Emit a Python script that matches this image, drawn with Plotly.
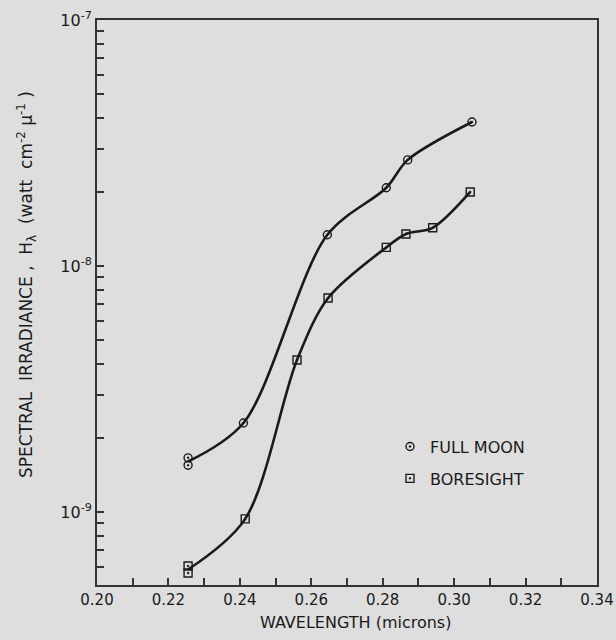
import numpy as np
import plotly.graph_objects as go

# Full moon measurements
fm_x = [0.2255, 0.2255, 0.241, 0.2645, 0.281, 0.287, 0.305]
fm_y = [1.66e-9, 1.55e-9, 2.30e-9, 1.34e-8, 2.08e-8, 2.70e-8, 3.85e-8]

# Boresight measurements
bs_x = [0.2255, 0.2255, 0.2415, 0.256, 0.2647, 0.281, 0.2865, 0.294, 0.3045]
bs_y = [6.03e-10, 5.65e-10, 9.38e-10, 4.15e-9, 7.41e-9, 1.19e-8, 1.35e-8, 1.43e-8, 2.00e-8]

x_ticks = [0.20, 0.22, 0.24, 0.26, 0.28, 0.30, 0.32, 0.34]
x_minor = [0.21, 0.23, 0.25, 0.27, 0.29, 0.31, 0.33]
y_major = [1e-9, 1e-8, 1e-7]
y_major_text = ["10<sup>-9</sup>", "10<sup>-8</sup>", "10<sup>-7</sup>"]

BG = "#dedede"
INK = "#1a1a1a"
AX = "#333333"
FONT = "DejaVu Sans"


def curve_points(xs, ys):
    # merge duplicate x readings for the drawn curve (geometric mean)
    out_x, out_y = [], []
    i = 0
    while i < len(xs):
        j = i
        vals = []
        while j < len(xs) and xs[j] == xs[i]:
            vals.append(np.log10(ys[j]))
            j += 1
        out_x.append(xs[i])
        out_y.append(10 ** (sum(vals) / len(vals)))
        i = j
    return out_x, out_y


fig = go.Figure()
for xs, ys in [(fm_x, fm_y), (bs_x, bs_y)]:
    cx, cy = curve_points(xs, ys)
    fig.add_trace(go.Scatter(x=cx, y=cy, mode="lines", showlegend=False,
                             line=dict(color=INK, width=2.6, shape="spline", smoothing=0.9),
                             hoverinfo="skip"))

fig.add_trace(go.Scatter(x=fm_x, y=fm_y, mode="markers", name="FULL MOON", legendgroup="a",
                         marker=dict(symbol="circle-open-dot", size=8, color=INK,
                                     line=dict(width=1.4, color=INK))))
fig.add_trace(go.Scatter(x=bs_x, y=bs_y, mode="markers", name="BORESIGHT", legendgroup="b",
                         marker=dict(symbol="square-open-dot", size=8, color=INK,
                                     line=dict(width=1.4, color=INK))))

# y tick positions: majors plus 2..9 minors, all same tick length
y_tickvals, y_ticktext = [], []
for d in [-10, -9, -8]:
    for m in range(1, 10):
        v = m * 10.0 ** d
        if 5e-10 <= v <= 1e-7 * 1.0001:
            y_tickvals.append(v)
            y_ticktext.append(y_major_text[d + 9] if m == 1 and d >= -9 else "")
y_tickvals.append(1e-7)
y_ticktext.append(y_major_text[2])

fig.update_layout(
    width=616, height=640,
    margin=dict(l=97, r=19, t=20, b=55, autoexpand=False),
    paper_bgcolor=BG, plot_bgcolor=BG,
    font=dict(family=FONT, color=INK, size=15),
    legend=dict(x=0.586, y=0.275, xanchor="left", yanchor="top",
                bgcolor="rgba(0,0,0,0)", font=dict(size=16, family=FONT),
                itemwidth=30, tracegroupgap=8, traceorder="grouped"),
    showlegend=True,
)
fig.update_xaxes(
    range=[0.20, 0.34], tickvals=x_ticks, ticktext=[f"{v:.2f}" for v in x_ticks],
    automargin=False,
    showgrid=False, zeroline=False, showline=True, linecolor=AX, linewidth=2,
    mirror=True, ticks="inside", ticklen=7, tickwidth=1.5, tickcolor=AX,
    minor=dict(tickvals=x_minor, ticks="inside", ticklen=7, tickwidth=1.5, tickcolor=AX),
    tickfont=dict(size=15),
)
fig.update_yaxes(
    type="log", range=[np.log10(5.05e-10), -7],
    tickvals=y_tickvals, ticktext=y_ticktext, automargin=False,
    showgrid=False, zeroline=False, showline=True, linecolor=AX, linewidth=2,
    mirror=True, ticks="inside", ticklen=7, tickwidth=1.5, tickcolor=AX,
    tickfont=dict(size=16),
)

fig.add_annotation(text="WAVELENGTH (microns)", xref="paper", yref="paper",
                   x=0.516, y=-0.067, xanchor="center", yanchor="middle",
                   showarrow=False, font=dict(size=16, family=FONT))
fig.add_annotation(text="SPECTRAL  IRRADIANCE ,  H<sub>λ</sub>  (watt  cm<sup>-2</sup> μ<sup>-1</sup> )",
                   xref="paper", yref="paper", x=-0.14, y=0.531, textangle=-90,
                   xanchor="center", yanchor="middle", showarrow=False,
                   font=dict(size=17, family=FONT))

fig.write_html("out.html")
